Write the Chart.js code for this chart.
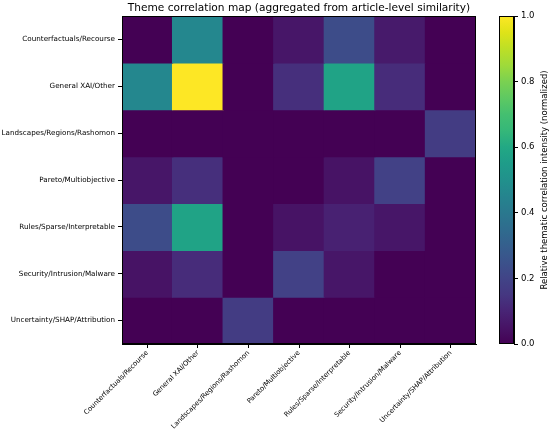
<!DOCTYPE html>
<html>
<head>
<meta charset="utf-8">
<script src="https://cdn.jsdelivr.net/npm/chart.js@4"></script>
<style>
  html, body { margin: 0; padding: 0; background: #fff; }
  #wrap { position: relative; width: 550px; height: 439px; }
  #main { position: absolute; left: 0; top: 0; width: 550px; height: 439px; }
  #bar { position: absolute; left: 480px; top: 0; width: 70px; height: 439px; }
</style>
</head>
<body>
<div id="wrap">
  <div id="main"><canvas id="heat"></canvas></div>
  <div id="bar"><canvas id="cbar"></canvas></div>
</div>
<script>
// Theme labels (same order on both axes)
const themes = [
  'Counterfactuals/Recourse',
  'General XAI/Other',
  'Landscapes/Regions/Rashomon',
  'Pareto/Multiobjective',
  'Rules/Sparse/Interpretable',
  'Security/Intrusion/Malware',
  'Uncertainty/SHAP/Attribution'
];

// Normalized correlation intensity, one array per row
const rowCounterfactuals = [0.00, 0.46, 0.00, 0.06, 0.23, 0.07, 0.00];
const rowGeneral         = [0.46, 1.00, 0.00, 0.13, 0.58, 0.12, 0.00];
const rowLandscapes      = [0.00, 0.00, 0.00, 0.00, 0.00, 0.00, 0.17];
const rowPareto          = [0.06, 0.13, 0.00, 0.00, 0.05, 0.19, 0.00];
const rowRules           = [0.23, 0.58, 0.00, 0.05, 0.09, 0.06, 0.00];
const rowSecurity        = [0.05, 0.12, 0.00, 0.19, 0.06, 0.00, 0.00];
const rowUncertainty     = [0.00, 0.00, 0.17, 0.00, 0.00, 0.00, 0.00];
const matrix = [rowCounterfactuals, rowGeneral, rowLandscapes, rowPareto, rowRules, rowSecurity, rowUncertainty];

const colorbarTicks = [0, 0.2, 0.4, 0.6, 0.8, 1.0];

// viridis colormap stops
const viridis = ['#440154', '#471365', '#482475', '#453781', '#414487', '#3b528b', '#355f8d',
  '#2f6c8e', '#2a788e', '#25848e', '#21918c', '#1e9c89', '#22a884', '#35b779', '#44bf70',
  '#5ec962', '#7ad151', '#9fda3a', '#bddf26', '#dfe318', '#fde725'];

function hexToRgb(h) {
  return [parseInt(h.substr(1, 2), 16), parseInt(h.substr(3, 2), 16), parseInt(h.substr(5, 2), 16)];
}

function viridisColor(v) {
  v = Math.max(0, Math.min(1, v));
  const pos = v * (viridis.length - 1);
  const i = Math.min(Math.floor(pos), viridis.length - 2);
  const t = pos - i;
  const a = hexToRgb(viridis[i]), b = hexToRgb(viridis[i + 1]);
  const c = a.map((x, k) => Math.round(x + (b[k] - x) * t));
  return 'rgb(' + c.join(',') + ')';
}

const font = 'DejaVu Sans';

// draws the frame round the plot area, plus title / side label
const framePlugin = {
  id: 'frame',
  afterDraw(chart, args, opts) {
    const a = chart.chartArea;
    const ctx = chart.ctx;
    ctx.save();
    ctx.strokeStyle = '#000';
    ctx.lineWidth = 1;
    ctx.strokeRect(Math.round(a.left) + 0.5, Math.round(a.top) + 0.5,
      Math.round(a.right - a.left) - 1, Math.round(a.bottom - a.top) - 1);
    if (opts.title) {
      ctx.fillStyle = '#000';
      ctx.font = opts.titleFont;
      ctx.textAlign = 'center';
      ctx.textBaseline = 'middle';
      ctx.fillText(opts.title, (a.left + a.right) / 2, opts.titleY);
    }
    if (opts.sideLabel) {
      ctx.fillStyle = '#000';
      ctx.font = opts.sideFont;
      ctx.translate(opts.sideX, (a.top + a.bottom) / 2);
      ctx.rotate(-Math.PI / 2);
      ctx.textAlign = 'center';
      ctx.textBaseline = 'middle';
      ctx.fillText(opts.sideLabel, 0, 0);
    }
    ctx.restore();
  }
};

// Heatmap: one floating bar dataset per row
const heatDatasets = matrix.map((row, r) => ({
  label: themes[r],
  data: row.map(() => [r - 0.5, r + 0.5]),
  backgroundColor: row.map(viridisColor),
  borderWidth: 0,
  inflateAmount: 0.6,
  barPercentage: 1.0,
  categoryPercentage: 1.0,
  grouped: false
}));

new Chart(document.getElementById('heat'), {
  type: 'bar',
  data: { labels: themes, datasets: heatDatasets },
  plugins: [framePlugin],
  options: {
    responsive: true,
    maintainAspectRatio: false,
    animation: false,
    layout: { padding: { top: 16, right: 74, left: 0, bottom: 0 } },
    plugins: {
      legend: { display: false },
      tooltip: { enabled: false },
      frame: {
        title: 'Theme correlation map (aggregated from article-level similarity)',
        titleFont: '10.6px "' + font + '"',
        titleY: 8
      }
    },
    scales: {
      x: {
        type: 'category',
        offset: true,
        grid: { display: true, drawOnChartArea: false, offset: false, color: '#000', tickLength: 4 },
        border: { display: true, color: '#000' },
        ticks: {
          color: '#000', font: { family: font, size: 6.8 },
          maxRotation: 45, minRotation: 45, autoSkip: false, padding: 1
        },
        afterFit(scale) { scale.height = 95; }
      },
      y: {
        type: 'linear',
        reverse: true,
        min: -0.5,
        max: 6.5,
        afterBuildTicks(scale) { scale.ticks = themes.map((t, i) => ({ value: i })); },
        grid: { display: true, drawOnChartArea: false, color: '#000', tickLength: 4 },
        border: { display: true, color: '#000' },
        ticks: {
          color: '#000', font: { family: font, size: 7.2 }, padding: 3,
          callback: (v) => themes[v]
        },
        afterFit(scale) { scale.width = 122; }
      }
    }
  }
});

// Colorbar: a single floating bar filled with the colormap
new Chart(document.getElementById('cbar'), {
  type: 'bar',
  data: {
    labels: [''],
    datasets: [{
      data: [[0, 1]],
      borderWidth: 0,
      barPercentage: 1.0,
      categoryPercentage: 1.0,
      backgroundColor(context) {
        const a = context.chart.chartArea;
        if (!a) return viridis[0];
        const g = context.chart.ctx.createLinearGradient(0, a.bottom, 0, a.top);
        viridis.forEach((c, i) => g.addColorStop(i / (viridis.length - 1), c));
        return g;
      }
    }]
  },
  plugins: [framePlugin],
  options: {
    responsive: true,
    maintainAspectRatio: false,
    animation: false,
    layout: { padding: { top: 16, right: 14, left: 19, bottom: 95 } },
    plugins: {
      legend: { display: false },
      tooltip: { enabled: false },
      frame: {
        sideLabel: 'Relative thematic correlation intensity (normalized)',
        sideFont: '8.5px "' + font + '"',
        sideX: 65
      }
    },
    scales: {
      x: { display: false },
      y: {
        position: 'right',
        min: 0,
        max: 1,
        afterBuildTicks(scale) { scale.ticks = colorbarTicks.map(v => ({ value: v })); },
        grid: { display: true, drawOnChartArea: false, color: '#000', tickLength: 4 },
        border: { display: true, color: '#000' },
        ticks: {
          color: '#000', font: { family: font, size: 8.5 }, padding: 3,
          callback: (v) => v.toFixed(1)
        },
        afterFit(scale) { scale.width = 22; }
      }
    }
  }
});
</script>
</body>
</html>
